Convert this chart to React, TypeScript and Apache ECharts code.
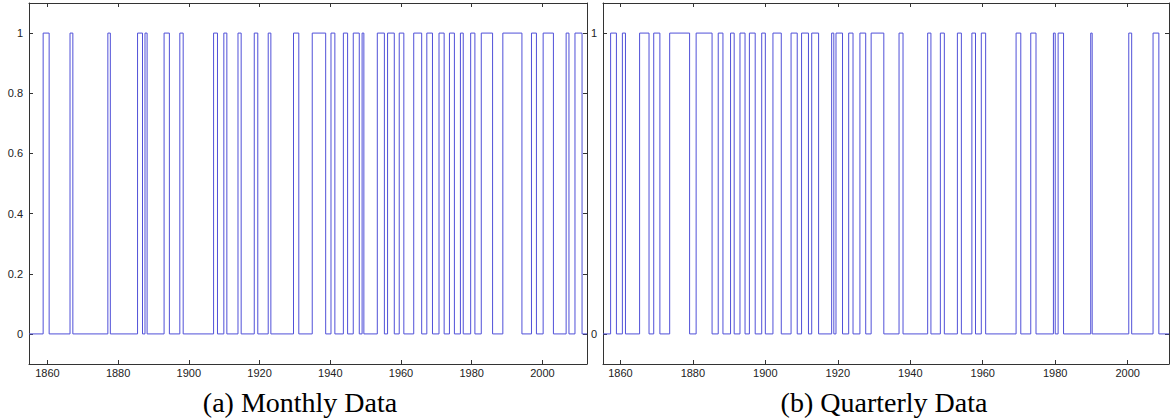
import React, { useEffect, useRef } from "react";
import * as echarts from "echarts";

// Regime-1 episodes (start year, end year)
const monthlyStart = [1858.8, 1866.4, 1877.1, 1885.5, 1887.6, 1893.0, 1897.45, 1907.0, 1909.9, 1913.9, 1918.5, 1922.45, 1929.6, 1934.9, 1940.2, 1943.7, 1946.5, 1949.0, 1953.3, 1956.2, 1959.5, 1963.6, 1967.3, 1970.75, 1973.7, 1976.8, 1979.7, 1982.7, 1988.8, 1996.9, 2000.2, 2006.7, 2009.2];
const monthlyEnd = [1860.5, 1867.2, 1877.8, 1886.9, 1888.2, 1894.5, 1898.4, 1908.1, 1910.75, 1914.8, 1919.5, 1923.2, 1931.1, 1938.7, 1941.3, 1944.9, 1948.2, 1949.5, 1955.3, 1958.1, 1960.8, 1965.85, 1968.9, 1972.2, 1975.1, 1977.6, 1980.9, 1985.9, 1994.2, 1998.3, 2003.1, 2007.5, 2011.2];
const quarterlyStart = [1857.3, 1860.55, 1865.3, 1869.2, 1873.6, 1880.9, 1887.0, 1890.4, 1893.0, 1895.6, 1899.0, 1902.1, 1907.1, 1910.0, 1912.8, 1918.3, 1919.5, 1923.0, 1926.1, 1929.2, 1936.9, 1944.8, 1948.3, 1953.0, 1957.0, 1959.6, 1969.2, 1973.25, 1979.5, 1980.8, 1989.8, 2000.3, 2007.0];
const quarterlyEnd = [1858.9, 1861.4, 1867.9, 1870.9, 1879.1, 1885.3, 1888.3, 1891.4, 1894.4, 1897.2, 1900.0, 1904.4, 1908.8, 1911.9, 1914.7, 1918.9, 1921.3, 1924.2, 1927.7, 1932.7, 1938.0, 1945.7, 1949.4, 1954.1, 1958.0, 1960.8, 1970.5, 1974.7, 1980.0, 1982.3, 1990.2, 2001.1, 2008.6];

const monthlyRange = [1854.8, 2012.6];
const quarterlyRange = [1855.2, 2011.4];
const xTicks = [1860, 1880, 1900, 1920, 1940, 1960, 1980, 2000];
const yTicksMonthly = [0, 0.2, 0.4, 0.6, 0.8, 1];
const yTicksQuarterly = [0, 1];
const captions = ["(a) Monthly Data", "(b) Quarterly Data"];

function stepData(starts: number[], ends: number[], range: number[]) {
  const pts: number[][] = [[range[0], 0]];
  starts.forEach((s, i) => {
    pts.push([s, 0], [s, 1], [ends[i], 1], [ends[i], 0]);
  });
  pts.push([range[1], 0]);
  return pts;
}

const axisColor = "#333";
const labelFont = { fontFamily: "Liberation Sans", fontSize: 11, color: "#222" };

function xAxes(range: number[], gridIndex: number) {
  const base = {
    type: "value",
    gridIndex,
    min: range[0],
    max: range[1],
    splitLine: { show: false },
    axisLine: { show: true, onZero: false, lineStyle: { color: axisColor, width: 1 } },
    axisTick: { show: true, inside: true, length: 4, customValues: xTicks, lineStyle: { color: axisColor } },
  };
  return [
    {
      ...base,
      position: "bottom",
      axisLabel: { show: true, margin: 3, customValues: xTicks, formatter: (v: number) => String(v), ...labelFont },
    },
    { ...base, position: "top", axisLabel: { show: false } },
  ];
}

function yAxes(ticks: number[], gridIndex: number) {
  const base = {
    type: "value",
    gridIndex,
    min: -0.1,
    max: 1.1,
    splitLine: { show: false },
    axisLine: { show: true, onZero: false, lineStyle: { color: axisColor, width: 1 } },
    axisTick: { show: true, inside: true, length: 4, customValues: ticks, lineStyle: { color: axisColor } },
  };
  return [
    {
      ...base,
      position: "left",
      axisLabel: { show: true, margin: 6, customValues: ticks, formatter: (v: number) => String(v), ...labelFont },
    },
    { ...base, position: "right", axisLabel: { show: false } },
  ];
}

export default function App() {
  const ref = useRef<HTMLDivElement>(null);
  useEffect(() => {
    if (!ref.current) return;
    const chart = echarts.init(ref.current, undefined, { renderer: "svg" });
    const lineStyle = { color: "#5050d8", width: 1 };
    const captionStyle = {
      fontFamily: "Liberation Serif",
      fontSize: 28,
      fill: "#000",
      align: "center",
      textAlign: "center",
      verticalAlign: "middle",
      textVerticalAlign: "middle",
    };
    chart.setOption({
      animation: false,
      backgroundColor: "#ffffff",
      grid: [
        { left: 29, right: 583, top: 3, bottom: 56 },
        { left: 603, right: 1, top: 3, bottom: 56 },
      ],
      xAxis: [...xAxes(monthlyRange, 0), ...xAxes(quarterlyRange, 1)],
      yAxis: [...yAxes(yTicksMonthly, 0), ...yAxes(yTicksQuarterly, 1)],
      series: [
        {
          type: "line",
          xAxisIndex: 0,
          yAxisIndex: 0,
          data: stepData(monthlyStart, monthlyEnd, monthlyRange),
          showSymbol: false,
          lineStyle,
          clip: true,
        },
        {
          type: "line",
          xAxisIndex: 2,
          yAxisIndex: 2,
          data: stepData(quarterlyStart, quarterlyEnd, quarterlyRange),
          showSymbol: false,
          lineStyle,
          clip: true,
        },
      ],
      graphic: [
        { type: "text", x: 300, y: 402, style: { text: captions[0], ...captionStyle } },
        { type: "text", x: 884, y: 402, style: { text: captions[1], ...captionStyle } },
      ],
    });
    return () => chart.dispose();
  }, []);
  return (
    <div
      ref={ref}
      style={{ position: "absolute", left: 0, top: 0, width: 1170, height: 420, background: "#fff" }}
    />
  );
}
